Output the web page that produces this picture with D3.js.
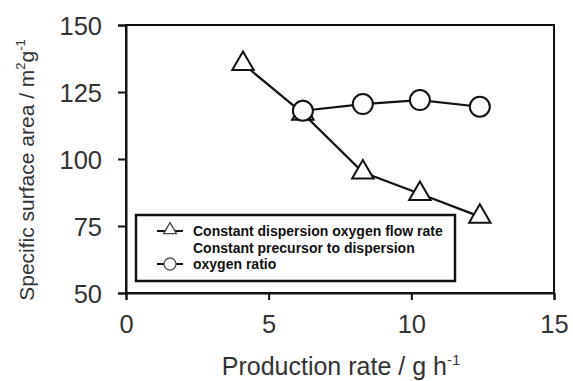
<!DOCTYPE html>
<html>
<head>
<meta charset="utf-8">
<script src="https://cdn.jsdelivr.net/npm/d3@7/dist/d3.min.js"></script>
<style>
  html, body { margin: 0; padding: 0; background: #fff; }
  svg { display: block; font-family: Arial, "Liberation Sans", sans-serif; }
</style>
</head>
<body>
<svg id="chart" width="573" height="381"></svg>
<script>
// Production rate (g/h) and specific surface area (m²/g) for two operating modes
const flowRateX = [4.1, 6.2, 8.3, 10.3, 12.4];
const flowRateY = [135.5, 117, 95, 87, 78.5];
const ratioX = [6.2, 8.3, 10.3, 12.4];
const ratioY = [118, 120.5, 122, 119.5];
const xTicks = [0, 5, 10, 15];
const yTicks = [50, 75, 100, 125, 150];
const legendLabels = [
  ["Constant dispersion oxygen flow rate"],
  ["Constant precursor to dispersion", "oxygen ratio"]
];

const svg = d3.select("#chart");
const margin = { left: 126, top: 25, right: 573 - 554, bottom: 381 - 293 };
const W = 573, H = 381;

const x = d3.scaleLinear().domain([0, 15]).range([margin.left, W - margin.right]);
const y = d3.scaleLinear().domain([50, 150]).range([H - margin.bottom, margin.top]);

const ink = "#111";
const labelInk = "#333";

// frame
svg.append("rect")
  .attr("x", x(0)).attr("y", y(150))
  .attr("width", x(15) - x(0)).attr("height", y(50) - y(150))
  .attr("fill", "none").attr("stroke", ink).attr("stroke-width", 2);

// axes
const xAxis = svg.append("g")
  .attr("transform", `translate(0,${y(50)})`)
  .call(d3.axisBottom(x).tickValues(xTicks).tickSize(7).tickPadding(15));
const yAxis = svg.append("g")
  .attr("transform", `translate(${x(0)},0)`)
  .call(d3.axisLeft(y).tickValues(yTicks).tickSize(8).tickPadding(16));

[xAxis, yAxis].forEach(g => {
  g.select(".domain").attr("stroke", ink).attr("stroke-width", 2);
  g.selectAll(".tick line").attr("stroke", ink).attr("stroke-width", 2);
  g.selectAll(".tick text")
    .attr("fill", labelInk)
    .style("font-size", "25.5px")
    .style("font-family", "Arial, 'Liberation Sans', sans-serif");
});
yAxis.selectAll(".tick text").attr("dy", "0.36em");

// axis titles
svg.append("text")
  .attr("x", 341).attr("y", 375)
  .attr("text-anchor", "middle")
  .attr("fill", labelInk)
  .style("font-size", "25px")
  .html('Production rate / g h<tspan dy="-10" font-size="15">-1</tspan>');

svg.append("text")
  .attr("transform", `translate(34,170) rotate(-90)`)
  .attr("text-anchor", "middle")
  .attr("fill", labelInk)
  .style("font-size", "21px")
  .html('Specific surface area / m<tspan dy="-9" font-size="13">2</tspan><tspan dy="9">g</tspan><tspan dy="-9" font-size="13">-1</tspan>');

// series lines
const line = d3.line().x(d => x(d[0])).y(d => y(d[1]));
const triData = flowRateX.map((v, i) => [v, flowRateY[i]]);
const circData = ratioX.map((v, i) => [v, ratioY[i]]);

svg.append("path").datum(triData).attr("d", line)
  .attr("fill", "none").attr("stroke", ink).attr("stroke-width", 2.2);
svg.append("path").datum(circData).attr("d", line)
  .attr("fill", "none").attr("stroke", ink).attr("stroke-width", 2.2);

const triSym = d3.symbol().type(d3.symbolTriangle).size(200);
svg.append("g").selectAll("path").data(triData).join("path")
  .attr("d", triSym)
  .attr("transform", d => `translate(${x(d[0])},${y(d[1])})`)
  .attr("fill", "#fff").attr("stroke", ink).attr("stroke-width", 2);

svg.append("g").selectAll("circle").data(circData).join("circle")
  .attr("cx", d => x(d[0])).attr("cy", d => y(d[1])).attr("r", 10)
  .attr("fill", "#fff").attr("stroke", ink).attr("stroke-width", 2);

// legend
const lg = svg.append("g");
lg.append("rect")
  .attr("x", 136).attr("y", 215).attr("width", 319).attr("height", 66)
  .attr("fill", "#fff").attr("stroke", ink).attr("stroke-width", 2.5);

const rowsY = [231, 264];
const smallTri = d3.symbol().type(d3.symbolTriangle).size(70);
rowsY.forEach((ry, i) => {
  lg.append("line").attr("x1", 157).attr("x2", 183).attr("y1", ry).attr("y2", ry)
    .attr("stroke", ink).attr("stroke-width", 2);
  if (i === 0) {
    lg.append("path").attr("d", smallTri).attr("transform", `translate(170,${ry - 1})`)
      .attr("fill", "#fff").attr("stroke", "#444").attr("stroke-width", 1.3);
  } else {
    lg.append("circle").attr("cx", 170).attr("cy", ry).attr("r", 6)
      .attr("fill", "#fff").attr("stroke", "#555").attr("stroke-width", 1.3);
  }
});
const legendLines = [[legendLabels[0][0], 231], [legendLabels[1][0], 248], [legendLabels[1][1], 264]];
legendLines.forEach(([t, ty]) => {
  lg.append("text").attr("x", 193).attr("y", ty).attr("dy", "0.35em")
    .attr("fill", ink)
    .style("font-size", "14px").style("font-weight", "bold")
    .text(t);
});
</script>
</body>
</html>
